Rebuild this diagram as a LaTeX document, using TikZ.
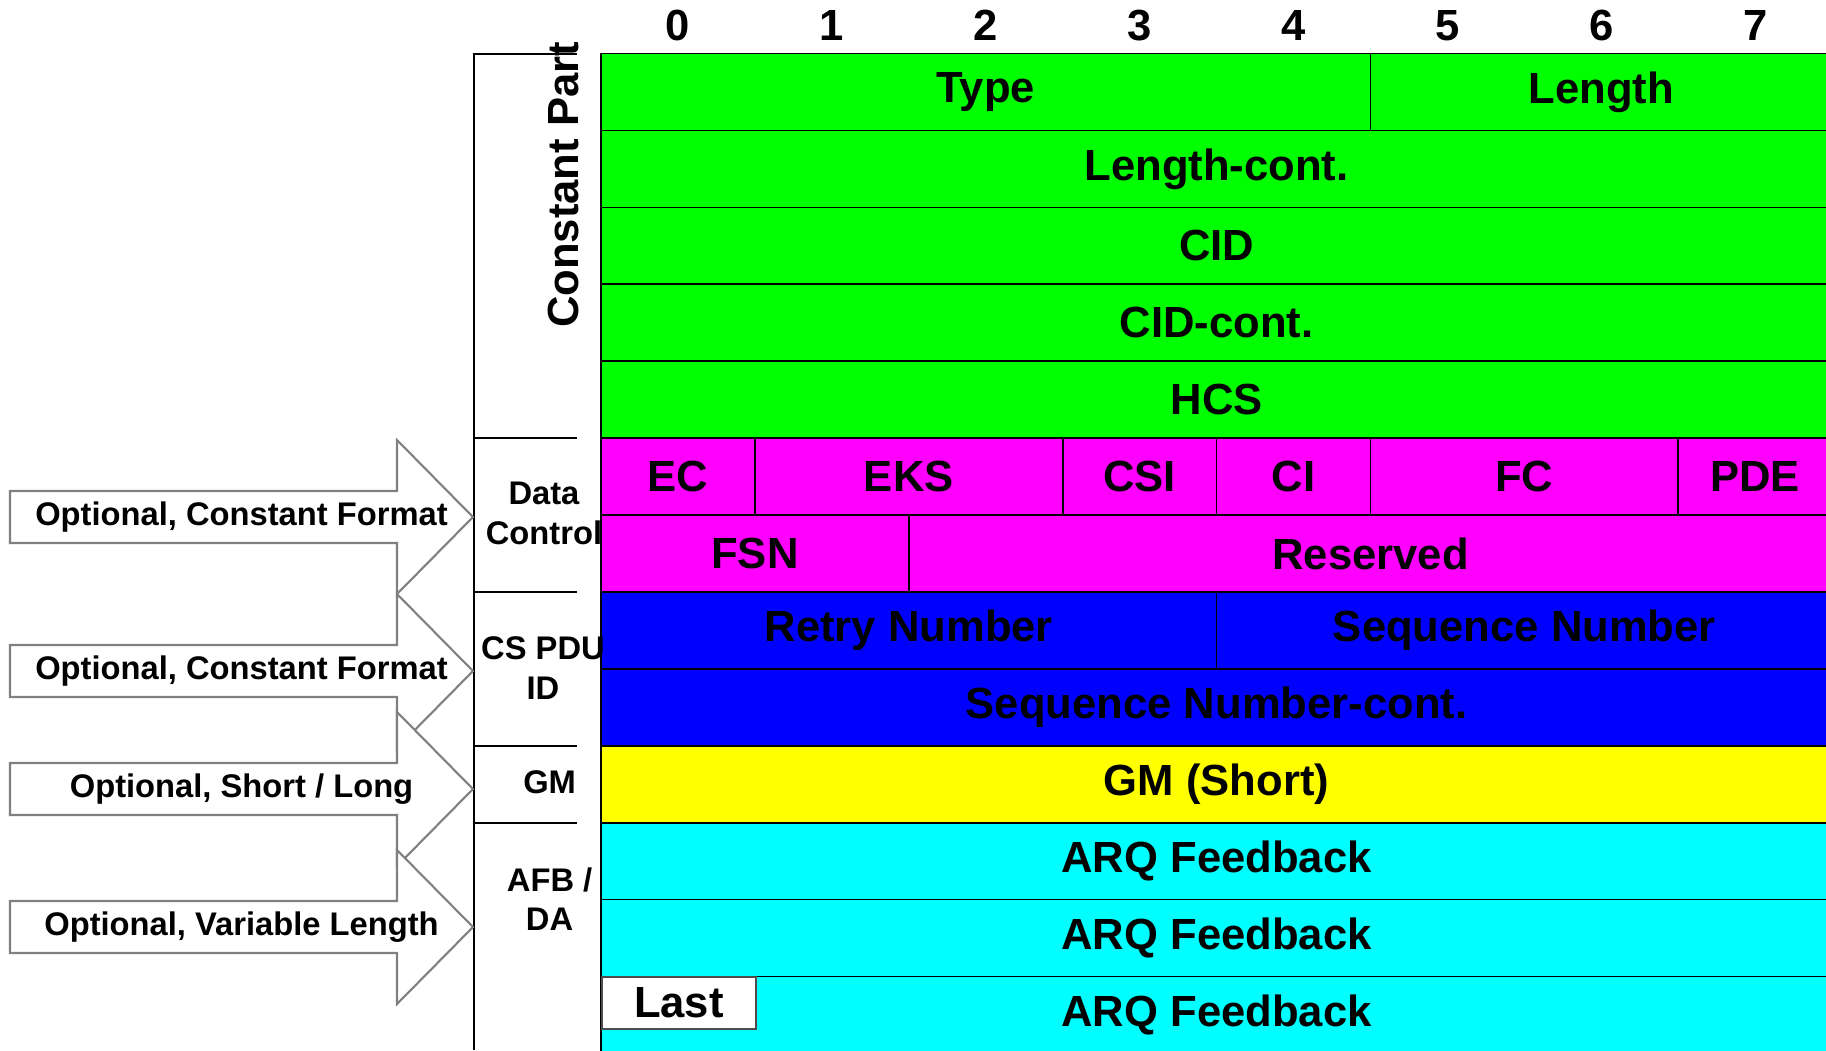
\documentclass[tikz,border=0pt]{standalone}
\usepackage{fontspec}
\setmainfont{Liberation Sans}
\definecolor{fgreen}{RGB}{0,255,0}
\definecolor{fmagenta}{RGB}{255,0,255}
\definecolor{fblue}{RGB}{0,0,255}
\definecolor{fyellow}{RGB}{255,255,0}
\definecolor{fcyan}{RGB}{0,255,255}

\begin{document}
\begin{tikzpicture}[x=0.01cm, y=-0.01cm,
  cell/.style={draw=black, line width=0.5pt},
  lbl/.style={font=\fontsize{12.4}{14}\selectfont\bfseries, inner sep=0pt},
  side/.style={font=\fontsize{9.3}{11.3}\selectfont\bfseries, align=center, inner sep=0pt},
  blk/.style={draw=black!50, fill=white, line width=0.6pt},
  brk/.style={draw=black, line width=0.6pt}]
\useasboundingbox (0,0) rectangle (1826,1050);

% bit numbers
\foreach \i in {0,...,7}
  \node[lbl] (h\i) at ({601+153.9*(\i+0.5)}, 25.6) {\i};

% the fields: first column / last column+1 / row / colour / text
\foreach \a/\b/\r/\c/\t in {0/5/0/fgreen/Type, 5/8/0/fgreen/Length,
    0/8/1/fgreen/Length-cont., 0/8/2/fgreen/CID, 0/8/3/fgreen/CID-cont., 0/8/4/fgreen/HCS,
    0/1/5/fmagenta/EC, 1/3/5/fmagenta/EKS, 3/4/5/fmagenta/CSI, 4/5/5/fmagenta/CI,
    5/7/5/fmagenta/FC, 7/8/5/fmagenta/PDE,
    0/2/6/fmagenta/FSN, 2/8/6/fmagenta/Reserved,
    0/4/7/fblue/Retry Number, 4/8/7/fblue/Sequence Number,
    0/8/8/fblue/Sequence Number-cont., 0/8/9/fyellow/GM (Short),
    0/8/10/fcyan/ARQ Feedback, 0/8/11/fcyan/ARQ Feedback, 0/8/12/fcyan/ARQ Feedback}
{
  \draw[cell, fill=\c] ({601+153.9*\a}, {53.6+76.9*\r}) rectangle ({601+153.9*\b}, {53.6+76.9*(\r+1)});
  \node[lbl] (f\r-\a) at ({601+153.9*(\a+\b)/2}, {53.6+76.9*(\r+0.5)}) {\t};
}
\node[lbl, draw=black!70, line width=0.5pt, fill=white, minimum width=1.539cm, minimum height=0.516cm,
  anchor=north west] (last) at (601,976.4) {Last};

% bracket on the left of the table
\draw[brk] (577,53.6) -- (474,53.6) -- (474,1050);
\foreach \y in {438.1, 591.9, 745.7, 822.6}
  \draw[brk] (474,\y) -- (577,\y);
\node[lbl, rotate=90] (cp) at (563,185) {Constant Part};
\node[side] (dc) at (544,513.5) {Data\\Control};
\node[side] (cs) at (543,668.4) {CS PDU\\ID};
\node[side] (gm) at (549.6,782.5) {GM};
\node[side] (afb) at (549.6,899) {AFB /\\DA};

% block arrows
\foreach \m in {517, 671, 789, 927}
  \draw[blk] (10,\m-26) -- (397,\m-26) -- (397,\m-77) -- (473,\m) -- (397,\m+77)
    -- (397,\m+26) -- (10,\m+26) -- cycle;
\node[side] (o1) at (241.5,517) {Optional, Constant Format};
\node[side] (o2) at (241.5,671) {Optional, Constant Format};
\node[side] (o3) at (241.5,789) {Optional, Short / Long};
\node[side] (o4) at (241.5,927) {Optional, Variable Length};
\end{tikzpicture}
\end{document}
